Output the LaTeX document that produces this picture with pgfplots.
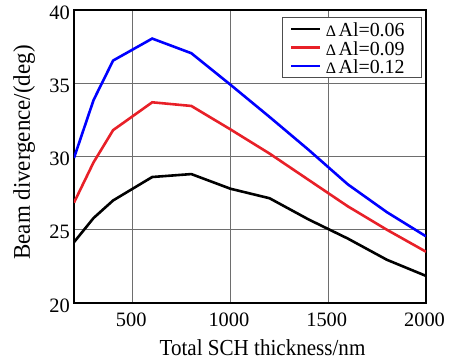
\documentclass[border=0pt]{standalone}
\usepackage{fontspec}
\setmainfont{Liberation Serif}
\newfontfamily\xlabfont[FakeStretch=0.92]{Liberation Serif}
\newfontfamily\ylabfont[FakeStretch=0.96]{Liberation Serif}
\usepackage{pgfplots}
\pgfplotsset{compat=1.18}
\definecolor{myred}{RGB}{232,32,40}
\definecolor{myblue}{RGB}{0,0,255}
\definecolor{gridc}{RGB}{110,110,110}
\newcommand\dA{{\fontsize{16}{16}\selectfont Δ}\hspace{2.5bp}Al}

\pgfplotstableread{
x y
200 24.15
300 25.8
400 27.0
600 28.6
800 28.8
1000 27.8
1200 27.15
1400 25.7
1600 24.4
1800 22.95
2000 21.85
}\blackdata
\pgfplotstableread{
x y
200 26.85
300 29.6
400 31.8
600 33.7
800 33.45
1000 31.85
1200 30.2
1400 28.4
1600 26.6
1800 25.0
2000 23.5
}\reddata
\pgfplotstableread{
x y
200 29.9
300 33.85
400 36.55
600 38.05
800 37.05
1000 34.9
1200 32.7
1400 30.45
1600 28.1
1800 26.2
2000 24.55
}\bluedata

\begin{document}
\begin{tikzpicture}
\begin{axis}[
  scale only axis, width=352bp, height=293bp,
  xmin=200, xmax=2000, ymin=20, ymax=40,
  xtick={500,1000,1500,2000}, ytick={20,25,30,35,40},
  grid=major, major grid style={gridc, line width=0.6pt},
  major tick length=0pt,
  axis line style={line width=1.3pt},
  /pgf/number format/assume math mode=true,
  /pgf/number format/1000 sep={},
  tick label style={font=\fontsize{20.5}{21}\selectfont},
  xticklabel style={inner sep=0pt, anchor=north, yshift=-9.5bp, xshift=-1.5bp},
  yticklabel style={inner sep=0pt, anchor=east, xshift=-4bp, yshift=-2.5bp},
  xlabel={\xlabfont\fontsize{23}{23}\selectfont Total SCH thickness/nm},
  xlabel style={at={(axis description cs:0.5355,-0.179)}, anchor=base, inner sep=0pt},
  ylabel={\ylabfont\fontsize{24}{24}\selectfont Beam divergence/(deg)},
  ylabel style={at={(axis description cs:-0.125,0.5137)}, anchor=base, inner sep=0pt},
  legend cell align=left,
  legend style={at={(axis description cs:1,1)}, anchor=north east,
    xshift=-4.3bp, yshift=-7.3bp, draw=gridc!70!black, line width=0.7pt,
    font=\fontsize{20}{20}\selectfont,
    inner xsep=8bp, inner ysep=2bp, row sep=0pt,
    nodes={inner xsep=4.2bp, inner ysep=0bp, text height=17bp, text depth=1.5bp}},
  legend image code/.code={\draw[#1] (0bp,0bp) -- (29bp,0bp);},
  legend image post style={line width=2.8pt},
]
\addplot[black, line width=2.6pt] table[x=x,y=y] {\blackdata};
\addlegendentry{\dA=0.06\hspace*{4.5bp}}
\addplot[myred, line width=2.6pt] table[x=x,y=y] {\reddata};
\addlegendentry{\dA=0.09\hspace*{4.5bp}}
\addplot[myblue, line width=2.6pt] table[x=x,y=y] {\bluedata};
\addlegendentry{\dA=0.12\hspace*{4.5bp}}
\end{axis}
\pgfresetboundingbox
\path[use as bounding box] ([shift={(-74bp,-56bp)}]current axis.south west) rectangle ([shift={(32bp,10bp)}]current axis.north east);
\end{tikzpicture}
\end{document}
